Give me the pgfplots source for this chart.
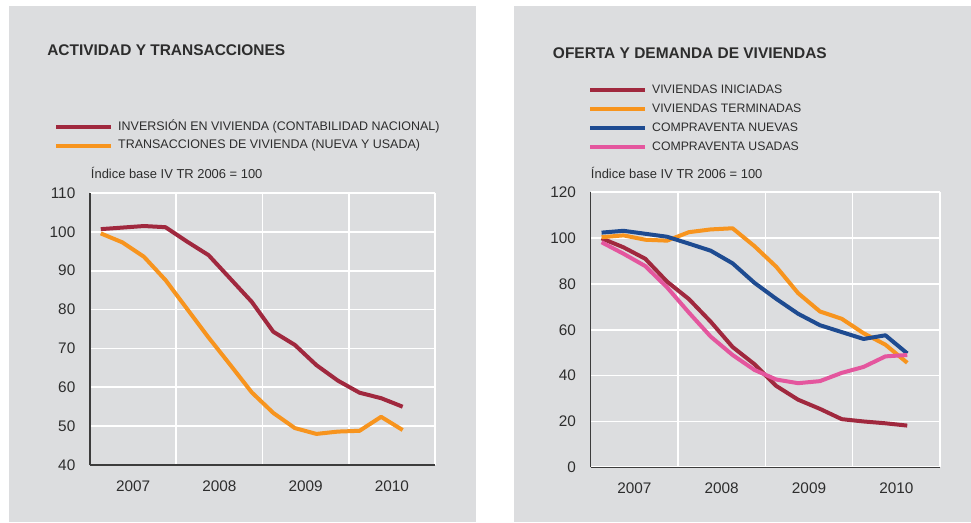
\documentclass[border=0pt]{standalone}
\usepackage{fontspec}
\setmainfont{Liberation Sans}
\usepackage{pgfplots}
\pgfplotsset{compat=1.18}
\definecolor{bg}{RGB}{220,221,223}
\definecolor{cRed}{RGB}{160,40,62}
\definecolor{cOrange}{RGB}{247,148,30}
\definecolor{cBlue}{RGB}{30,75,145}
\definecolor{cPink}{RGB}{228,86,158}
\definecolor{txt}{RGB}{45,45,45}
\definecolor{axl}{RGB}{60,60,60}
\pgfplotsset{
  panel/.style={
    scale only axis,
    xmin=0, xmax=16,
    axis x line*=bottom, axis y line*=left,
    axis line style={draw=axl, line width=0.8pt, -},
    xtick={0,4,8,12,16}, xticklabels={},
    extra x ticks={2,6,10,14},
    extra x tick labels={2007,2008,2009,2010},
    extra x tick style={grid=none},
    major tick length=0pt, minor tick length=0pt,
    grid=major,
    major grid style={white, line width=1.2pt},
    tick label style={font=\fontsize{11.5}{13}\selectfont, text=txt},
    /pgf/number format/assume math mode=true,
    xticklabel style={yshift=-8pt},
    yticklabel style={xshift=-7.5pt},
    legend cell align=left,
    legend image code/.code={\draw[##1, line width=3pt] (0pt,0pt) -- (41pt,0pt);},
    every axis plot/.append style={line width=3pt, line join=round},
  }
}
\begin{document}
\begin{tikzpicture}[x=0.75pt,y=0.75pt]
\fill[white] (0,0) rectangle (971,522);
\fill[bg] (9,0) rectangle (476,516);
\fill[bg] (514,0) rectangle (971,516);
\node[anchor=base west, text=txt, font=\bfseries\fontsize{11.6}{13}\selectfont, inner sep=0pt] at (47,466.5) {ACTIVIDAD Y TRANSACCIONES};
\node[anchor=base west, text=txt, font=\bfseries\fontsize{11.6}{13}\selectfont, inner sep=0pt] at (552.7,463.2) {OFERTA Y DEMANDA DE VIVIENDAS};
\node[anchor=base west, text=txt, font=\fontsize{9.7}{11}\selectfont, inner sep=0pt] at (90.7,343.5) {Índice base IV TR 2006 = 100};
\node[anchor=base west, text=txt, font=\fontsize{9.7}{11}\selectfont, inner sep=0pt] at (590.7,343.5) {Índice base IV TR 2006 = 100};

\begin{axis}[panel, at={(67.5pt,42.75pt)}, anchor=south west,
  width=258.75pt, height=204pt,
  ymin=40, ymax=110, ytick={40,50,60,70,80,90,100,110},
  legend style={at={(-0.1037,1.2647)}, anchor=north west, draw=none, fill=none,
    inner sep=0pt, outer sep=0pt, font=\fontsize{9.35}{11}\selectfont, text=txt,
    row sep=4.9pt, column sep=4pt,
    nodes={inner sep=0pt, text height=7pt, text depth=2pt}},
]
\addplot[cRed] coordinates {(0.5,100.7)(1.5,101.1)(2.5,101.5)(3.5,101.2)(4.5,97.5)(5.5,94)(6.5,88)(7.5,82)(8.5,74.3)(9.5,70.9)(10.5,65.7)(11.5,61.7)(12.5,58.6)(13.5,57.2)(14.5,55)};
\addlegendentry{INVERSIÓN EN VIVIENDA (CONTABILIDAD NACIONAL)}
\addplot[cOrange] coordinates {(0.5,99.6)(1.5,97.3)(2.5,93.6)(3.5,87.6)(4.5,80.2)(5.5,72.8)(6.5,65.8)(7.5,58.7)(8.5,53.4)(9.5,49.5)(10.5,48)(11.5,48.6)(12.5,48.8)(13.5,52.4)(14.5,49)};
\addlegendentry{TRANSACCIONES DE VIVIENDA (NUEVA Y USADA)}
\end{axis}

\begin{axis}[panel, at={(443.0pt,41.03pt)}, anchor=south west,
  width=262pt, height=206.25pt,
  ymin=0, ymax=120, ytick={0,20,40,60,80,100,120},
  legend style={at={(-0.0072,1.3939)}, anchor=north west, draw=none, fill=none,
    inner sep=0pt, outer sep=0pt, font=\fontsize{9.2}{11}\selectfont, text=txt,
    row sep=5.2pt, column sep=4pt,
    nodes={inner sep=0pt, text height=7pt, text depth=2pt}},
]
\addplot[cRed] coordinates {(0.5,99.9)(1.5,96)(2.5,91)(3.5,81)(4.5,73.4)(5.5,63.5)(6.5,52.5)(7.5,45)(8.5,35.5)(9.5,29.5)(10.5,25.5)(11.5,21)(12.5,20)(13.5,19.2)(14.5,18.2)};
\addlegendentry{VIVIENDAS INICIADAS}
\addplot[cOrange] coordinates {(0.5,100.4)(1.5,101.2)(2.5,99.3)(3.5,98.9)(4.5,102.6)(5.5,103.8)(6.5,104.3)(7.5,96.5)(8.5,87.5)(9.5,76)(10.5,68)(11.5,64.8)(12.5,58.5)(13.5,53.5)(14.5,45.6)};
\addlegendentry{VIVIENDAS TERMINADAS}
\addplot[cBlue] coordinates {(0.5,102.4)(1.5,103.2)(2.5,101.9)(3.5,100.6)(4.5,97.6)(5.5,94.5)(6.5,89)(7.5,80.5)(8.5,73.5)(9.5,67)(10.5,62)(11.5,59)(12.5,56)(13.5,57.6)(14.5,49.7)};
\addlegendentry{COMPRAVENTA NUEVAS}
\addplot[cPink] coordinates {(0.5,98.2)(1.5,93.2)(2.5,87.8)(3.5,78.5)(4.5,67.5)(5.5,57)(6.5,49)(7.5,42.5)(8.5,38.3)(9.5,36.7)(10.5,37.6)(11.5,41.2)(12.5,43.8)(13.5,48.4)(14.5,49)};
\addlegendentry{COMPRAVENTA USADAS}
\end{axis}
\end{tikzpicture}
\end{document}
